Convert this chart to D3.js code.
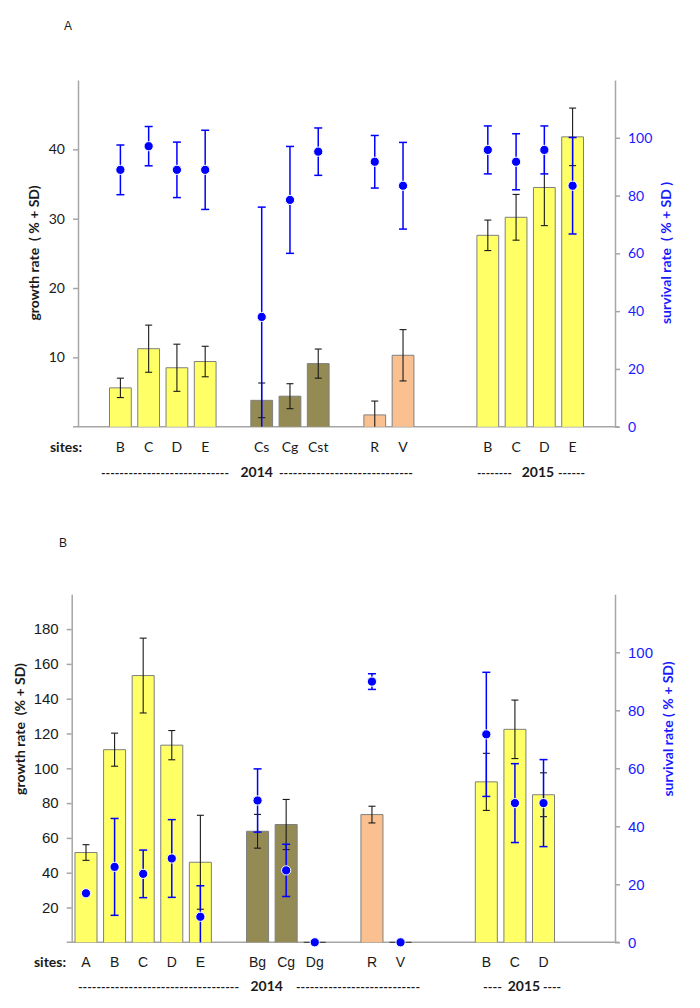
<!DOCTYPE html>
<html>
<head>
<meta charset="utf-8">
<script src="https://cdn.jsdelivr.net/npm/d3@7"></script>
<style>
  body { margin: 0; background: #fff; }
  text { white-space: pre; }
</style>
</head>
<body>
<svg id="chart"></svg>
<script>
const w = 700;
const h = 1008;

// ---- panel A data ----
const sitesA = ['B', 'C', 'D', 'E', 'Cs', 'Cg', 'Cst', 'R', 'V', 'B', 'C', 'D', 'E'];
const groupsA = ['y14', 'y14', 'y14', 'y14', 'dk', 'dk', 'dk', 'or', 'or', 'y15', 'y15', 'y15', 'y15'];
const growthA = [5.6, 11.25, 8.5, 9.4, 3.8, 4.4, 9.1, 1.7, 10.3, 27.6, 30.2, 34.5, 41.8];
const growthSdA = [1.4, 3.4, 3.4, 2.2, 2.5, 1.8, 2.1, 2.0, 3.7, 2.2, 3.3, 5.5, 4.15];
const survA = [88.9, 97.1, 88.9, 88.9, 38, 78.5, 95.2, 91.7, 83.4, 95.8, 91.7, 95.8, 83.4];
const survSdA = [8.6, 6.8, 9.6, 13.7, 38, 18.5, 8.2, 9.1, 15, 8.3, 9.7, 8.3, 16.7];
const growthTicksA = [10, 20, 30, 40];

// ---- panel B data ----
const sitesB = ['A', 'B', 'C', 'D', 'E', 'Bg', 'Cg', 'Dg', 'R', 'V', 'B', 'C', 'D'];
const groupsB = ['y14', 'y14', 'y14', 'y14', 'y14', 'dk', 'dk', 'dk', 'or', 'or', 'y15', 'y15', 'y15'];
const growthB = [51.6, 110.7, 153.3, 113.3, 46, 63.8, 67.7, 0, 73.4, 0, 92.2, 122.4, 84.8];
const growthSdB = [4.5, 9.5, 21.5, 8.4, 27, 9.7, 14.4, 0, 4.8, 0, 16.4, 16.8, 12.6];
const survB = [16.9, 26, 23.6, 28.9, 8.8, 48.9, 24.8, 0, 89.9, 0, 71.7, 48, 48];
const survSdB = [0, 16.7, 8.2, 13.4, 10.7, 10.9, 9, 0, 2.7, 0, 21.4, 13.6, 15];
const growthTicksB = [20, 40, 60, 80, 100, 120, 140, 160, 180];

const survTicks = [0, 20, 40, 60, 80, 100];

const fills = { y14: '#ffff66', y15: '#ffff66', dk: '#948a54', or: '#fac090' };
const blue = '#0000ff';

const svg = d3.select('#chart').attr('width', w).attr('height', h);

// put categories into 19 slots, with empty slots between groups
const slotIndex = (groups, lead) => {
	let s = lead - 1;
	return groups.map((g, i) => {
		if (i > 0 && g !== groups[i - 1]) s += g === 'y15' ? 3 : 2;
		else s += 1;
		return s;
	});
};

const drawPanel = (cfg) => {
	const n = cfg.sites.length;
	const slots = slotIndex(cfg.groups, cfg.lead);
	const data = d3.range(n).map((i) => ({
		site: cfg.sites[i],
		group: cfg.groups[i],
		g: cfg.growth[i],
		gsd: cfg.growthSd[i],
		s: cfg.surv[i],
		ssd: cfg.survSd[i],
		slot: slots[i],
	}));

	const x = d3.scaleBand().domain(d3.range(19)).range([cfg.left, cfg.right]).paddingInner(0.23).paddingOuter(0.115);
	const yL = d3.scaleLinear().domain([0, cfg.gMax]).range([cfg.bottom, cfg.top]);
	const yR = d3.scaleLinear().domain([0, 120]).range([cfg.bottom, cfg.top]);
	const cx = (d) => x(d.slot) + x.bandwidth() / 2;
	const g = svg.append('g');

	// axes
	const axL = g.append('g').attr('transform', `translate(${cfg.left},0)`)
		.call(d3.axisLeft(yL).tickValues(cfg.gTicks).tickSize(5).tickSizeOuter(0).tickPadding(8));
	const axR = g.append('g').attr('transform', `translate(${cfg.right},0)`)
		.call(d3.axisRight(yR).tickValues(survTicks).tickSize(5).tickSizeOuter(0).tickPadding(8));
	[axL, axR].forEach((a) => {
		a.selectAll('path, line').attr('stroke', '#a6a6a6').attr('stroke-width', 1.5);
		a.selectAll('text').attr('font-family', cfg.tickFont).attr('font-size', cfg.tickSize);
	});
	axL.selectAll('text').attr('fill', '#1a1a1a');
	axR.selectAll('text').attr('fill', '#1a1aff');

	g.append('line')
		.attr('x1', cfg.left - 5).attr('x2', cfg.right + 4)
		.attr('y1', yL(0)).attr('y2', yL(0))
		.attr('stroke', '#a6a6a6').attr('stroke-width', 1.5);

	// bars (path so zero bars still show a line)
	g.selectAll('.bar').data(data).enter().append('path')
		.attr('class', 'bar')
		.attr('d', (d) => {
			const x0 = x(d.slot), bw = x.bandwidth(), y0 = yL(0), y1 = yL(d.g);
			return `M${x0},${y0}V${y1}H${x0 + bw}V${y0}`;
		})
		.attr('fill', (d) => fills[d.group])
		.attr('stroke', (d) => (d.g === 0 ? '#333' : '#7f7f7f')).attr('stroke-width', 1);

	// growth error bars
	const eb = g.selectAll('.geb').data(data.filter((d) => d.gsd > 0)).enter().append('g')
		.attr('stroke', '#1a1a1a').attr('stroke-width', 1.1);
	eb.append('line').attr('x1', cx).attr('x2', cx)
		.attr('y1', (d) => yL(d.g + d.gsd)).attr('y2', (d) => yL(Math.max(0, d.g - d.gsd)));
	eb.append('line').attr('x1', (d) => cx(d) - 3.5).attr('x2', (d) => cx(d) + 3.5)
		.attr('y1', (d) => yL(d.g + d.gsd)).attr('y2', (d) => yL(d.g + d.gsd));
	eb.filter((d) => d.g - d.gsd > 0.3).append('line')
		.attr('x1', (d) => cx(d) - 3.5).attr('x2', (d) => cx(d) + 3.5)
		.attr('y1', (d) => yL(d.g - d.gsd)).attr('y2', (d) => yL(d.g - d.gsd));

	// survival error bars
	const sb = g.selectAll('.seb').data(data.filter((d) => d.ssd > 0)).enter().append('g')
		.attr('stroke', blue).attr('stroke-width', 1.5);
	sb.append('line').attr('x1', cx).attr('x2', cx)
		.attr('y1', (d) => yR(d.s + d.ssd)).attr('y2', (d) => yR(Math.max(0, d.s - d.ssd)));
	sb.append('line').attr('x1', (d) => cx(d) - 4).attr('x2', (d) => cx(d) + 4)
		.attr('y1', (d) => yR(d.s + d.ssd)).attr('y2', (d) => yR(d.s + d.ssd));
	sb.filter((d) => d.s - d.ssd > 0.5).append('line')
		.attr('x1', (d) => cx(d) - 4).attr('x2', (d) => cx(d) + 4)
		.attr('y1', (d) => yR(d.s - d.ssd)).attr('y2', (d) => yR(d.s - d.ssd));

	// survival dots
	g.selectAll('.dot').data(data).enter().append('circle')
		.attr('cx', cx).attr('cy', (d) => yR(d.s)).attr('r', 4.6)
		.attr('fill', blue).attr('stroke', '#fff').attr('stroke-width', 1);

	// site labels
	g.selectAll('.site').data(data).enter().append('text')
		.attr('x', cx).attr('y', cfg.siteY)
		.attr('text-anchor', 'middle')
		.attr('font-family', cfg.siteFont).attr('font-size', cfg.siteSize).attr('fill', '#1a1a1a')
		.text((d) => d.site);
	g.append('text').attr('x', cfg.sitesX).attr('y', cfg.siteY)
		.attr('text-anchor', 'middle').attr('font-family', 'Lato').attr('font-weight', 'bold')
		.attr('font-size', 14).attr('fill', '#1a1a1a').text('sites:');

	// year rows
	cfg.years.forEach((yr) => {
		[[yr.l0, yr.l1], [yr.r0, yr.r1]].forEach(([a, b]) => {
			g.append('text').attr('x', a).attr('y', cfg.yearY)
				.attr('textLength', b - a).attr('lengthAdjust', 'spacingAndGlyphs')
				.attr('font-family', 'Lato').attr('font-weight', 'bold').attr('font-size', 12)
				.attr('fill', '#1a1a1a').text('-'.repeat(Math.round((b - a) / 4.6)));
		});
		g.append('text').attr('x', yr.c).attr('y', cfg.yearY).attr('text-anchor', 'middle')
			.attr('font-family', 'Lato').attr('font-weight', 'bold').attr('font-size', 14)
			.attr('fill', '#1a1a1a').text(yr.label);
	});

	// axis titles
	g.append('text')
		.attr('transform', `translate(${cfg.titleLX},${cfg.titleY}) rotate(-90)`)
		.attr('text-anchor', 'middle').attr('font-family', 'Lato').attr('font-weight', 'bold')
		.attr('font-size', 14).attr('fill', '#1a1a1a').text(cfg.titleL);
	g.append('text')
		.attr('transform', `translate(${cfg.titleRX},${cfg.titleY}) rotate(-90)`)
		.attr('text-anchor', 'middle').attr('font-family', 'Lato').attr('font-weight', 'bold')
		.attr('font-size', 14).attr('fill', '#1a1aff').text(cfg.titleR);

	// panel letter
	g.append('text').attr('x', cfg.letterX).attr('y', cfg.letterY).attr('text-anchor', 'middle')
		.attr('font-family', 'Liberation Sans').attr('font-size', 12).attr('fill', '#1a1a1a')
		.text(cfg.letter);
};

drawPanel({
	sites: sitesA, groups: groupsA, growth: growthA, growthSd: growthSdA, surv: survA, survSd: survSdA,
	lead: 1, left: 78, right: 615, top: 80, bottom: 426.7, gMax: 50, gTicks: growthTicksA,
	tickFont: 'Lato', tickSize: 14, siteFont: 'Lato', siteSize: 14, siteY: 451.5, sitesX: 66,
	yearY: 477,
	years: [
		{ label: '2014', c: 256.7, l0: 101, l1: 229, r0: 279, r1: 413 },
		{ label: '2015', c: 538, l0: 477, l1: 512, r0: 558, r1: 585 },
	],
	titleL: 'growth rate  ( % + SD)', titleR: 'survival rate  ( % + SD )',
	titleLX: 39, titleRX: 671, titleY: 253,
	letter: 'A', letterX: 68, letterY: 30,
});

drawPanel({
	sites: sitesB, groups: groupsB, growth: growthB, growthSd: growthSdB, surv: survB, survSd: survSdB,
	lead: 0, left: 71.7, right: 615, top: 594.3, bottom: 942.3, gMax: 200, gTicks: growthTicksB,
	tickFont: 'Liberation Sans', tickSize: 15, siteFont: 'Liberation Sans', siteSize: 14, siteY: 966.5, sitesX: 50,
	yearY: 991,
	years: [
		{ label: '2014', c: 266.7, l0: 78, l1: 239, r0: 296, r1: 420 },
		{ label: '2015', c: 524, l0: 483, l1: 502, r0: 543, r1: 561 },
	],
	titleL: 'growth rate  (% + SD)', titleR: 'survival rate ( % + SD)',
	titleLX: 25, titleRX: 673, titleY: 729,
	letter: 'B', letterX: 63, letterY: 547,
});
</script>
</body>
</html>
